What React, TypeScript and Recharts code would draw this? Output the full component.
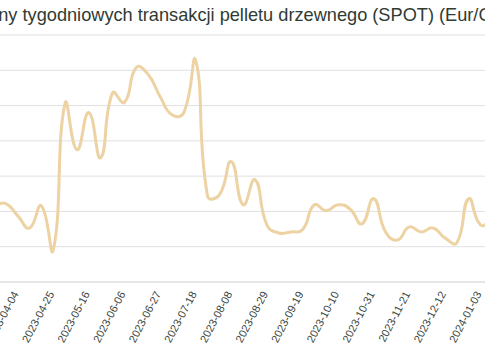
import { LineChart, Line, XAxis, YAxis, CartesianGrid } from 'recharts';

// weekly SPOT transaction prices, Eur/GJ
const weeks = [
  '2023-03-21', '2023-03-28', '2023-04-04', '2023-04-11', '2023-04-18', '2023-04-25',
  '2023-05-02', '2023-05-09', '2023-05-16', '2023-05-23', '2023-05-30', '2023-06-06',
  '2023-06-13', '2023-06-20', '2023-06-27', '2023-07-04', '2023-07-11', '2023-07-18',
  '2023-07-25', '2023-08-01', '2023-08-08', '2023-08-15', '2023-08-22', '2023-08-29',
  '2023-09-05', '2023-09-12', '2023-09-19', '2023-09-26', '2023-10-03', '2023-10-10',
  '2023-10-17', '2023-10-24', '2023-10-31', '2023-11-07', '2023-11-14', '2023-11-21',
  '2023-11-28', '2023-12-05', '2023-12-12', '2023-12-19', '2023-12-27', '2024-01-03',
  '2024-01-10',
];

const prices = [
  14.16, 14.22, 13.88, 13.53, 14.16, 12.9,
  17.06, 15.75, 16.8, 15.52, 17.36, 17.09,
  18.08, 17.88, 17.26, 16.74, 16.8, 18.28,
  14.44, 14.47, 15.41, 14.19, 14.9, 13.62,
  13.39, 13.42, 13.48, 14.19, 14.02, 14.19,
  14.07, 13.65, 14.36, 13.42, 13.19, 13.56,
  13.42, 13.53, 13.25, 13.11, 14.36, 13.62,
  13.76,
];

const tickWeeks = [
  '2023-04-04', '2023-04-25', '2023-05-16', '2023-06-06', '2023-06-27', '2023-07-18',
  '2023-08-08', '2023-08-29', '2023-09-19', '2023-10-10', '2023-10-31', '2023-11-21',
  '2023-12-12', '2024-01-03',
];

const yTicks = [12, 13, 14, 15, 16, 17, 18, 19];

const data = weeks.map((week, i) => ({ i, week, price: prices[i] }));
const xTicks = tickWeeks.map((w) => weeks.indexOf(w));

// bezier smoothing weighted by neighbour segment lengths (like echarts smooth: true)
const smoothCurve = (context: any) => {
  let pts: number[][] = [];
  return {
    areaStart() {},
    areaEnd() {},
    lineStart() {
      pts = [];
    },
    point(x: number, y: number) {
      pts.push([+x, +y]);
    },
    lineEnd() {
      const n = pts.length;
      if (!n) return;
      const k = 0.5;
      const cpIn: number[][] = [];
      const cpOut: number[][] = [];
      for (let i = 0; i < n; i++) {
        const cur = pts[i];
        const prev = pts[i - 1] || cur;
        const next = pts[i + 1] || cur;
        const vx = next[0] - prev[0];
        const vy = next[1] - prev[1];
        const l0 = Math.hypot(cur[0] - prev[0], cur[1] - prev[1]);
        const l1 = Math.hypot(next[0] - cur[0], next[1] - cur[1]);
        const r = l0 + l1 ? l1 / (l0 + l1) : 0.5;
        cpIn.push([cur[0] - vx * k * (1 - r), cur[1] - vy * k * (1 - r)]);
        cpOut.push([cur[0] + vx * k * r, cur[1] + vy * k * r]);
      }
      context.moveTo(pts[0][0], pts[0][1]);
      for (let i = 1; i < n; i++) {
        context.bezierCurveTo(cpOut[i - 1][0], cpOut[i - 1][1], cpIn[i][0], cpIn[i][1], pts[i][0], pts[i][1]);
      }
    },
  };
};

const AngledTick = ({ x, y, payload }: { x?: number; y?: number; payload?: { value: number } }) => {
  const tx = (x ?? 0) - 2;
  const ty = (y ?? 0) + 2;
  return (
    <text
      x={tx}
      y={ty}
      dy="0.35em"
      textAnchor="end"
      fontSize={11}
      fill="#3b463e"
      transform={`rotate(-62, ${tx}, ${ty})`}
    >
      {weeks[payload?.value ?? 0]}
    </text>
  );
};

export default function App() {
  return (
    <div
      style={{
        position: 'fixed',
        left: 0,
        top: 0,
        width: 485,
        height: 360,
        overflow: 'hidden',
        background: '#fff',
        fontFamily: '"Liberation Sans", Arial, sans-serif',
      }}
    >
      <div
        style={{
          position: 'absolute',
          left: -25,
          top: 5,
          fontSize: 18.2,
          color: '#2f3b33',
          whiteSpace: 'nowrap',
        }}
      >
        Ceny tygodniowych transakcji pelletu drzewnego (SPOT) (Eur/GJ)
      </div>
      <div style={{ position: 'absolute', left: -20, top: 0 }}>
        <LineChart
          width={540}
          height={360}
          data={data}
          margin={{ top: 35, right: 27.6, bottom: 18, left: 13.86 }}
        >
          <CartesianGrid vertical={false} stroke="#e0e0e0" />
          <XAxis
            dataKey="i"
            type="number"
            domain={[0, weeks.length - 1]}
            ticks={xTicks}
            interval={0}
            height={60}
            tickLine={false}
            stroke="#dcdcdc"
            tick={<AngledTick />}
          />
          <YAxis hide domain={[12, 19]} ticks={yTicks} />
          <Line
            type={smoothCurve as any}
            dataKey="price"
            stroke="#edd3a3"
            strokeWidth={3}
            dot={false}
            isAnimationActive={false}
          />
        </LineChart>
      </div>
    </div>
  );
}
